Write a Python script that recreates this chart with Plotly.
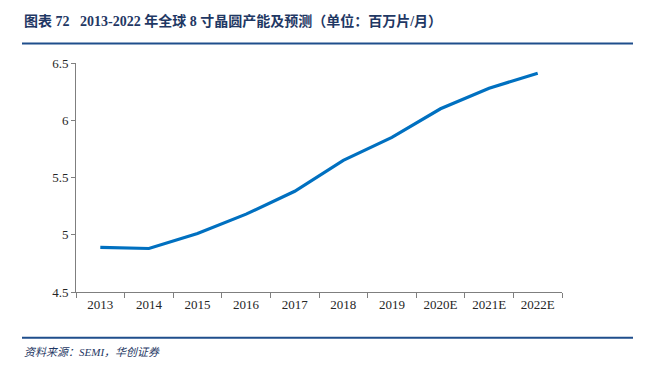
import plotly.graph_objects as go

years = ["2013", "2014", "2015", "2016", "2017", "2018", "2019", "2020E", "2021E", "2022E"]
capacity = [4.89, 4.88, 5.01, 5.18, 5.38, 5.65, 5.85, 6.10, 6.28, 6.41]
y_ticks = [4.5, 5, 5.5, 6, 6.5]
y_tick_labels = ["4.5", "5", "5.5", "6", "6.5"]

title_text = "图表 72   2013-2022 年全球 8 寸晶圆产能及预测（单位：百万片/月）"
source_text = "资料来源：SEMI，华创证券"

L, R, T, B = 76, 93, 63, 74
W, H = 655, 366
pw = W - L - R
ph = H - T - B

def px_x(x):
    return (x - L) / pw

def px_y(y):
    return (H - B - y) / ph

fig = go.Figure()
fig.add_trace(go.Scatter(
    x=years, y=capacity, mode="lines",
    line=dict(color="#0070C0", width=3.2),
    hoverinfo="x+y",
))

serif = "Liberation Serif, Times New Roman, Noto Sans CJK SC, serif"

fig.update_layout(
    width=W, height=H,
    margin=dict(l=L, r=R, t=T, b=B, autoexpand=False),
    paper_bgcolor="white", plot_bgcolor="white",
    showlegend=False,
    xaxis=dict(
        type="category", showgrid=False, zeroline=False,
        showline=True, linecolor="#7f7f7f", linewidth=1,
        ticks="outside", ticklen=5, tickcolor="#7f7f7f", tickson="boundaries",
        tickfont=dict(family=serif, size=13, color="#262626"),
        range=[-0.5, 9.5],
    ),
    yaxis=dict(
        range=[4.5, 6.5], tickvals=y_ticks, ticktext=y_tick_labels,
        showgrid=False, zeroline=False,
        showline=True, linecolor="#7f7f7f", linewidth=1,
        ticks="outside", ticklen=4, tickcolor="#7f7f7f",
        tickfont=dict(family=serif, size=13, color="#262626"),
    ),
    shapes=[
        dict(type="line", xref="paper", yref="paper",
             x0=px_x(22), x1=px_x(633), y0=px_y(43.5), y1=px_y(43.5),
             line=dict(color="#1F4E8C", width=2)),
        dict(type="line", xref="paper", yref="paper",
             x0=px_x(22), x1=px_x(633), y0=px_y(337.7), y1=px_y(337.7),
             line=dict(color="#1F4E8C", width=2)),
    ],
    annotations=[
        dict(text="<b>" + title_text + "</b>", xref="paper", yref="paper",
             x=px_x(22), y=px_y(21), xanchor="left", yanchor="middle",
             showarrow=False,
             font=dict(family="Liberation Serif, Noto Sans CJK SC, serif", size=14, color="#1F3864")),
        dict(text="<i>" + source_text + "</i>", xref="paper", yref="paper",
             x=px_x(22), y=px_y(352), xanchor="left", yanchor="middle",
             showarrow=False,
             font=dict(family="Liberation Serif, Noto Sans CJK SC, serif", size=11, color="#1F3864")),
    ],
)

fig.write_html("out.html", config={"displayModeBar": False},
               post_script="document.body.style.margin='0';document.body.style.overflow='hidden';")
